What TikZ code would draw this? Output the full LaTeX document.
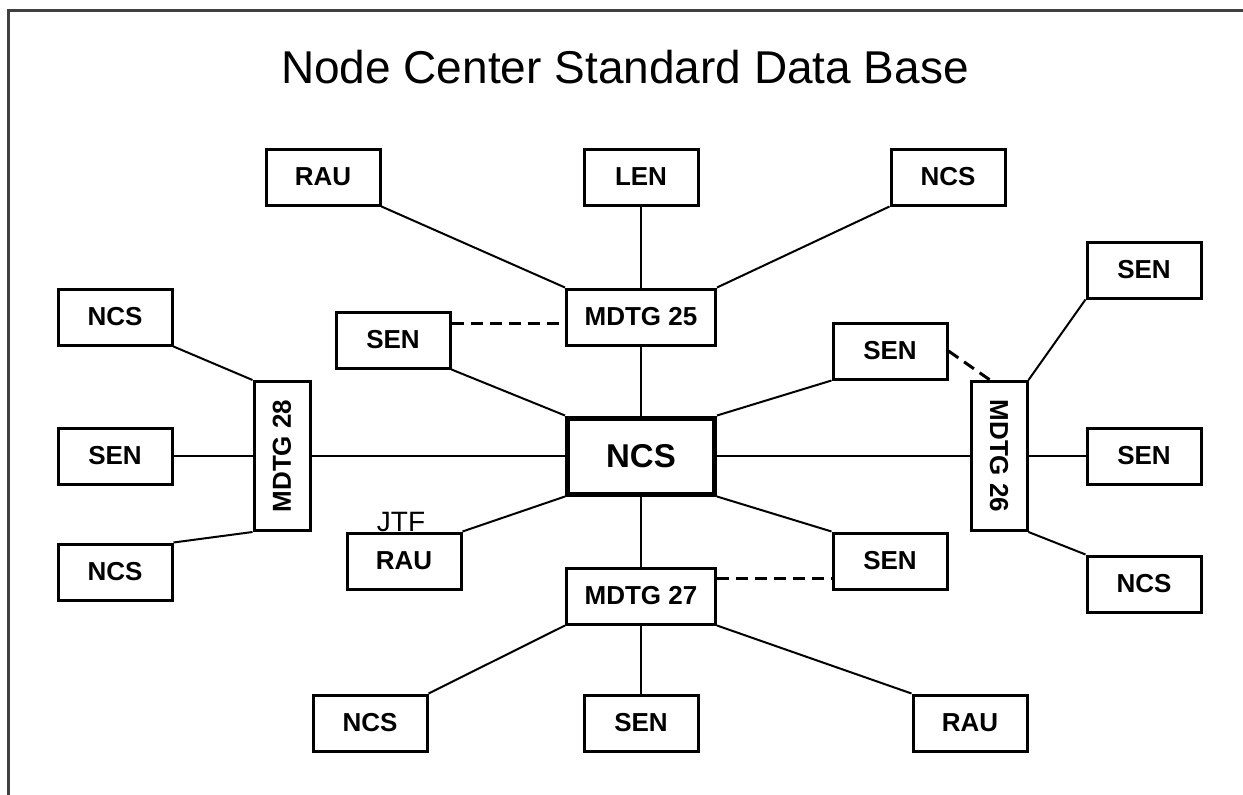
\documentclass[tikz,border=0pt]{standalone}
\usepackage{fontspec}
\setmainfont{Liberation Sans}
\usetikzlibrary{positioning}

\tikzset{
  unit/.style={draw, line width=3pt, minimum width=114pt, minimum height=56pt, inner sep=0pt,
    font=\fontsize{26}{30}\selectfont\bfseries},
  hubbox/.style={draw, line width=5pt, minimum width=147pt, minimum height=76pt, inner sep=0pt,
    font=\fontsize{33}{38}\selectfont\bfseries},
  mdtg/.style={unit, minimum width=149pt},
  mdtgv/.style={unit, minimum width=56pt, minimum height=149pt},
  link/.style={line width=2pt},
  spare/.style={line width=3pt, dash pattern=on 12pt off 7pt},
}

\begin{document}
\begin{tikzpicture}[x=1pt, y=-1pt, on grid]
  \useasboundingbox (0,0) rectangle (1243,795);
  \draw[line width=3pt, black!75] (1243,10) -- (8,10) -- (8,795);
  \node[anchor=base, font=\fontsize{46}{52}\selectfont] (title) at (625,83) {Node Center Standard Data Base};

  \node[hubbox] (ncs_0) at (641,456) {NCS};
    \node[mdtg] (mdtg_25) [above=139pt of ncs_0] {MDTG 25};
      \node[unit] (rau_1) [above left=140pt and 318pt of mdtg_25] {RAU};
      \node[unit] (len_1) [above=140pt of mdtg_25] {LEN};
      \node[unit] (ncs_1) [above right=140pt and 307pt of mdtg_25] {NCS};
    \node[mdtg] (mdtg_27) [below=140pt of ncs_0] {MDTG 27};
      \node[unit] (ncs_5) [below left=127pt and 271pt of mdtg_27] {NCS};
      \node[unit] (sen_7) [below=127pt of mdtg_27] {SEN};
      \node[unit] (rau_3) [below right=127pt and 329pt of mdtg_27] {RAU};
    \node[mdtgv] (mdtg_28) [left=359pt of ncs_0] {\rotatebox{90}{MDTG 28}};
      \node[unit] (ncs_2) [above left=139pt and 167pt of mdtg_28] {NCS};
      \node[unit] (sen_4) [left=167pt of mdtg_28] {SEN};
      \node[unit] (ncs_3) [below left=116pt and 167pt of mdtg_28] {NCS};
    \node[mdtgv] (mdtg_26) [right=358pt of ncs_0] {\rotatebox{-90}{MDTG 26}};
      \node[unit] (sen_5) [above right=186pt and 145pt of mdtg_26] {SEN};
      \node[unit] (sen_6) [right=145pt of mdtg_26] {SEN};
      \node[unit] (ncs_4) [below right=128pt and 145pt of mdtg_26] {NCS};
    \node[unit] (sen_1) [above left=116pt and 248pt of ncs_0] {SEN};
    \node[unit] (sen_2) [above right=105pt and 249pt of ncs_0] {SEN};
    \node[unit] (rau_2) [below left=105pt and 237pt of ncs_0] {RAU};
    \node[unit] (sen_3) [below right=105pt and 249pt of ncs_0] {SEN};
  \node[anchor=base, inner sep=0pt, font=\fontsize{28}{32}\selectfont] (jtf) at ([xshift=-3pt]rau_2.north) {JTF};

  % spokes
  \draw[link] (rau_1.south east) -- (mdtg_25.north west);
  \draw[link] (len_1.south) -- (mdtg_25.north);
  \draw[link] (ncs_1.south west) -- (mdtg_25.north east);
  \draw[link] (mdtg_25.south) -- (ncs_0.north);
  \draw[link] (sen_1.south east) -- (ncs_0.north west);
  \draw[link] (sen_2.south west) -- (ncs_0.north east);
  \draw[link] (rau_2.north east) -- (ncs_0.south west);
  \draw[link] (ncs_0.south east) -- (sen_3.north west);
  \draw[link] (ncs_0.west) -- (mdtg_28.east);
  \draw[link] (ncs_0.east) -- (mdtg_26.west);
  \draw[link] (ncs_0.south) -- (mdtg_27.north);
  \draw[link] (ncs_2.south east) -- (mdtg_28.north west);
  \draw[link] (sen_4.east) -- (mdtg_28.west);
  \draw[link] (ncs_3.north east) -- (mdtg_28.south west);
  \draw[link] (sen_5.south west) -- (mdtg_26.north east);
  \draw[link] (mdtg_26.east) -- (sen_6.west);
  \draw[link] (mdtg_26.south east) -- (ncs_4.north west);
  \draw[link] (mdtg_27.south west) -- (ncs_5.north east);
  \draw[link] (mdtg_27.south) -- (sen_7.north);
  \draw[link] (mdtg_27.south east) -- (rau_3.north west);
  % dashed
  \draw[spare] ([yshift=17pt]sen_1.east) -- ([yshift=17pt]sen_1.east -| mdtg_25.west);
  \draw[spare] (sen_2.east) -- ([xshift=-9pt]mdtg_26.north);
  \draw[spare] ([yshift=18pt]mdtg_27.east) -- ([yshift=18pt]mdtg_27.east -| sen_3.west);
\end{tikzpicture}
\end{document}
